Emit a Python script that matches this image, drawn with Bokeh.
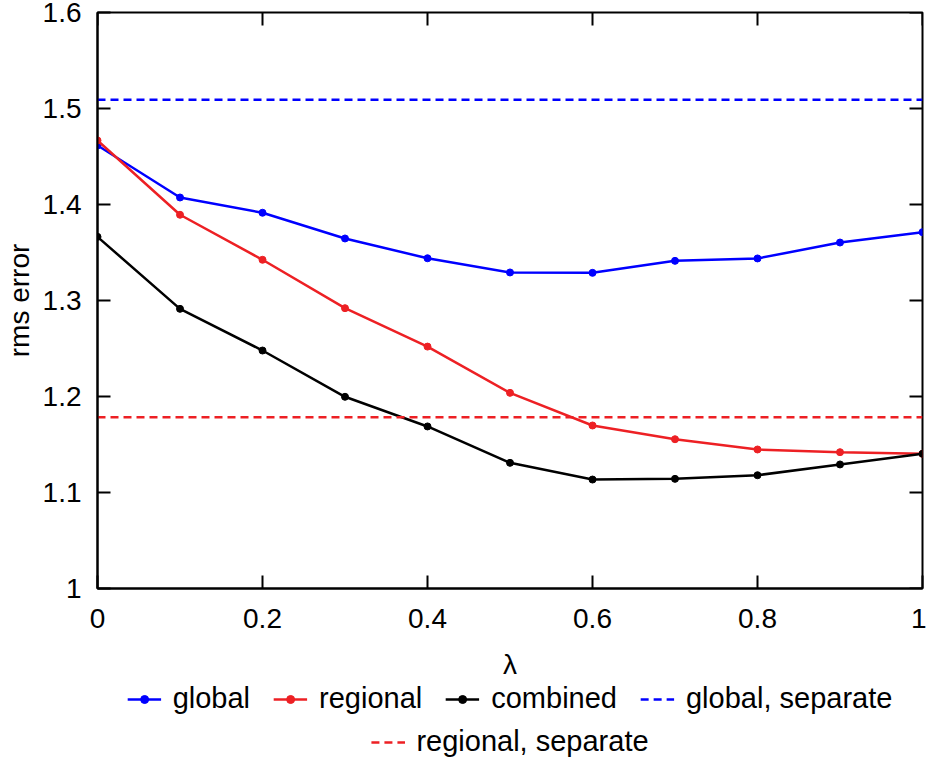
import math
from bokeh.plotting import figure
from bokeh.layouts import column
from bokeh.models import (Range1d, FixedTicker, CustomJSTickFormatter, Legend, LegendItem)
from bokeh.embed import file_html
from bokeh.resources import INLINE

# ---- data ----
lam = [0.0, 0.1, 0.2, 0.3, 0.4, 0.5, 0.6, 0.7, 0.8, 0.9, 1.0]
global_err = [1.4615, 1.4073, 1.3914, 1.3646, 1.344, 1.3292, 1.3288, 1.3413, 1.3438, 1.3604, 1.3712]
regional_err = [1.4667, 1.3893, 1.3424, 1.292, 1.252, 1.2038, 1.1698, 1.1555, 1.1448, 1.142, 1.1403]
combined_err = [1.3663, 1.2913, 1.2479, 1.1997, 1.1688, 1.1309, 1.1135, 1.1142, 1.118, 1.1292, 1.1403]
global_separate = 1.509
regional_separate = 1.1784

x_ticks = [0, 0.2, 0.4, 0.6, 0.8, 1.0]
y_ticks = [1.0, 1.1, 1.2, 1.3, 1.4, 1.5, 1.6]

x_title = "λ"
y_title = "rms error"
series_labels = ["global", "regional", "combined", "global, separate", "regional, separate"]

BLUE = "#0000ff"
RED = "#ed2024"
BLACK = "#000000"
FONT = "Liberation Sans"
FS = "28px"
LFS = "29px"
LW = 2.5
MS = 7
FW, FH = 825, 576
BL, BR = 97, 4
W = BL + FW + BR

p = figure(frame_width=FW, frame_height=FH, output_backend="svg", toolbar_location=None,
           x_range=Range1d(lam[0], lam[-1]), y_range=Range1d(y_ticks[0], y_ticks[-1]),
           min_border_left=BL, min_border_right=BR, min_border_top=12, min_border_bottom=0,
           x_axis_label=x_title, y_axis_label=y_title)
p.xgrid.visible = False
p.ygrid.visible = False
p.outline_line_color = "black"
p.outline_line_width = 2
p.background_fill_color = "white"
p.border_fill_color = "white"

fmt = CustomJSTickFormatter(code="return Number(tick.toFixed(1)).toString();")


def style_axis(ax, ticks):
    ax.ticker = FixedTicker(ticks=ticks, minor_ticks=[])
    ax.formatter = fmt
    ax.axis_line_color = "black"
    ax.axis_line_width = 2
    ax.major_tick_line_color = "black"
    ax.major_tick_line_width = 2
    ax.major_tick_in = 13
    ax.major_tick_out = 0
    ax.minor_tick_in = 0
    ax.minor_tick_out = 0
    ax.major_label_text_font = FONT
    ax.major_label_text_color = "black"
    ax.major_label_text_font_size = FS
    ax.axis_label_text_font = FONT
    ax.axis_label_text_font_size = FS
    ax.axis_label_text_font_style = "normal"
    ax.axis_label_text_color = "black"


style_axis(p.xaxis[0], x_ticks)
style_axis(p.yaxis[0], y_ticks)
p.xaxis[0].major_label_standoff = 20
p.xaxis[0].axis_label_standoff = 18
p.yaxis[0].major_label_standoff = 16
p.yaxis[0].axis_label_standoff = 5

# mirror ticks on the top and right edges (half of each dash is clipped by the frame)
p.scatter(x_ticks, [y_ticks[-1]] * len(x_ticks), marker="dash", size=26, angle=math.pi / 2,
          line_color="black", line_width=2)
p.scatter([lam[-1]] * len(y_ticks), y_ticks, marker="dash", size=26,
          line_color="black", line_width=2)


def draw(fig):
    r = {}
    r["g"] = [fig.line(lam, global_err, line_color=BLUE, line_width=LW),
              fig.scatter(lam, global_err, size=MS, fill_color=BLUE, line_color=BLUE)]
    r["r"] = [fig.line(lam, regional_err, line_color=RED, line_width=LW),
              fig.scatter(lam, regional_err, size=MS, fill_color=RED, line_color=RED)]
    r["c"] = [fig.line(lam, combined_err, line_color=BLACK, line_width=LW),
              fig.scatter(lam, combined_err, size=MS, fill_color=BLACK, line_color=BLACK)]
    r["gs"] = [fig.line([lam[0], lam[-1]], [global_separate, global_separate], line_color=BLUE,
                        line_width=LW, line_dash="8 5")]
    r["rs"] = [fig.line([lam[0], lam[-1]], [regional_separate, regional_separate], line_color=RED,
                        line_width=LW, line_dash="8 5")]
    return r


draw(p)

# ---- legend strip below the chart (same series, drawn outside its visible range) ----
q = figure(width=W, height=76, output_backend="svg", toolbar_location=None,
           x_axis_type=None, y_axis_type=None, min_border=0,
           x_range=Range1d(lam[0], lam[-1]), y_range=Range1d(-1, 0))
q.outline_line_color = None
q.background_fill_color = "white"
q.border_fill_color = "white"
k = draw(q)


def make_legend(items, loc):
    return Legend(items=items, orientation="horizontal", location=loc,
                  label_text_font=FONT, label_text_font_size=LFS, label_text_color="black",
                  glyph_width=34, glyph_height=20, label_standoff=12, spacing=23,
                  padding=2, margin=0, border_line_color=None, background_fill_alpha=0)


q.add_layout(make_legend([
    LegendItem(label=series_labels[0], renderers=k["g"]),
    LegendItem(label=series_labels[1], renderers=k["r"]),
    LegendItem(label=series_labels[2], renderers=k["c"]),
    LegendItem(label=series_labels[3], renderers=k["gs"]),
], "top_center"))
q.add_layout(make_legend([
    LegendItem(label=series_labels[4], renderers=k["rs"]),
], "bottom_center"))

open("out.html", "w").write(file_html(column(p, q), INLINE))
